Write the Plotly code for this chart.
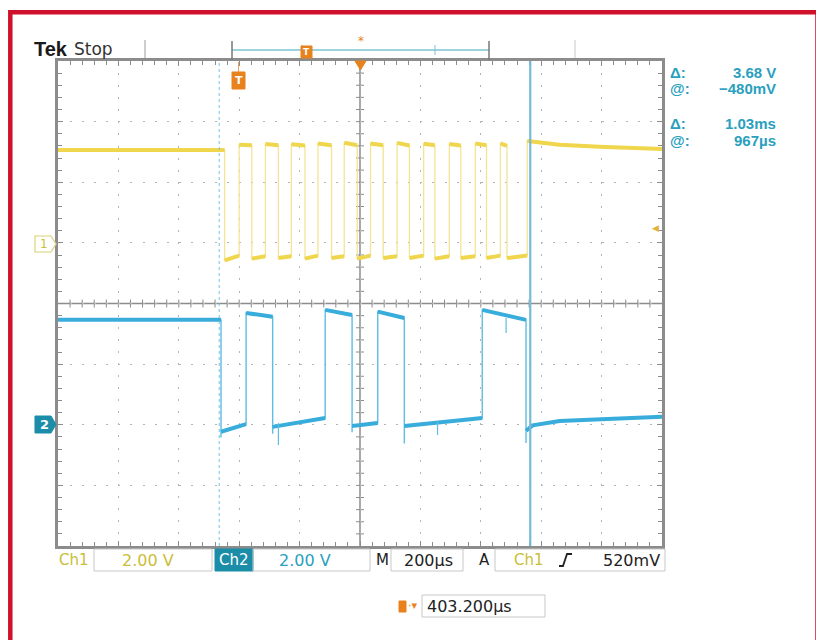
import plotly.graph_objects as go

# ---------------- canvas geometry (page has an 8px body margin) ----------------
OFF = 8
W, H = 816, 632
ML, MT = 50, 53
PW, PH = 604, 485
MR, MB = W - ML - PW, H - MT - PH


def X(p):          # page pixel -> paper x
    return (p - OFF - ML) / PW


def Y(p):          # page pixel -> paper y
    return (OFF + MT + PH - p) / PH


# ---------------- data ----------------
T_START, T_END = -596.8, 1403.2      # µs on screen (200 µs/div, trigger 403.2 µs left of centre)
T_CENTER = 403.2
CURSOR_T1, CURSOR_T2 = -63, 967       # vertical cursors (µs)
TRIG_LEVEL_V = 0.52                   # Ch1 trigger level (V)

# Channel 1 (yellow), volts
CH1_IDLE_V = 3.06
ch1_fall_us = [-45, 45, 133, 221, 309, 394, 480, 567, 651, 737, 822, 890]
ch1_rise_us = [3, 90, 176, 264, 351, 438, 526, 614, 699, 785, 868, 957]
ch1_low_start_v = [-0.58, -0.52, -0.50, -0.52, -0.50, -0.52, -0.50, -0.50, -0.52, -0.50, -0.50, -0.50]
ch1_low_end_v = [-0.42, -0.44, -0.44, -0.42, -0.44, -0.42, -0.44, -0.42, -0.44, -0.44, -0.42, -0.42]
ch1_high_start_v = [3.24, 3.26, 3.25, 3.28, 3.30, 3.28, 3.30, 3.27, 3.26, 3.28, 3.28]
ch1_high_end_v = [3.22, 3.22, 3.21, 3.22, 3.22, 3.22, 3.21, 3.22, 3.21, 3.22, 3.20]
ch1_tail_us = [957, 1064, 1196, 1403.2]
ch1_tail_v = [3.36, 3.24, 3.17, 3.10]

# Channel 2 (blue), volts
CH2_IDLE_V = 3.46
ch2_fall_us = [-57, 114, 377, 550, 953]
ch2_rise_us = [26, 288, 462, 808]
ch2_fall_dip_v = [-0.42, -0.30, -0.25, -0.62, -0.60]
ch2_low_start_v = [-0.23, -0.07, -0.04, -0.04]
ch2_low_end_v = [0.02, 0.22, 0.06, 0.22]
ch2_high_start_v = [3.69, 3.79, 3.73, 3.79]
ch2_high_end_v = [3.56, 3.62, 3.52, 3.46]
ch2_tail_us = [953, 975, 1064, 1250, 1403.2]
ch2_tail_v = [-0.20, -0.02, 0.12, 0.20, 0.26]
ch2_spike_us = [133, 660, 887]
ch2_spike_base_v = [0.06, 0.10, 3.52]
ch2_spike_tip_v = [-0.67, -0.34, 3.03]

# ---------------- colours ----------------
YEL, YEL_EDGE, YEL_TXT = "#F0D64C", "#F3E497", "#C9BE3A"
BLU, BLU_EDGE = "#38ADDC", "#5DBDE3"
TEAL_TXT, TEAL_BOX = "#2A9FBE", "#1B8DA8"
GRAY, ORANGE, RED = "#8C8C8C", "#E8821C", "#D0112B"


def assemble(edges, levels, tail_t, tail_v, dips):
    bounds = [T_START] + edges
    full_t, full_v, flat_t, flat_v = [], [], [], []
    for k, (v0, v1) in enumerate(levels):
        t0, t1 = bounds[k], bounds[k + 1]
        full_t += [t0, t1]
        full_v += [v0, v1]
        flat_t += [t0, t1, None]
        flat_v += [v0, v1, None]
        if t1 in dips:
            full_t.append(t1)
            full_v.append(dips[t1])
    full_t += tail_t
    full_v += tail_v
    flat_t += tail_t
    flat_v += tail_v
    return full_t, full_v, flat_t, flat_v


# Channel 1 series
ch1_edges = sorted(ch1_fall_us + ch1_rise_us)
ch1_levels = [(CH1_IDLE_V, CH1_IDLE_V)]
for i in range(len(ch1_rise_us)):
    ch1_levels.append((ch1_low_start_v[i], ch1_low_end_v[i]))
    if i < len(ch1_high_start_v):
        ch1_levels.append((ch1_high_start_v[i], ch1_high_end_v[i]))
c1t, c1v, c1ft, c1fv = assemble(ch1_edges, ch1_levels, ch1_tail_us, ch1_tail_v, {})

# Channel 2 series
ch2_edges = sorted(ch2_fall_us + ch2_rise_us)
ch2_levels = [(CH2_IDLE_V, CH2_IDLE_V)]
for i in range(len(ch2_rise_us)):
    ch2_levels.append((ch2_low_start_v[i], ch2_low_end_v[i]))
    ch2_levels.append((ch2_high_start_v[i], ch2_high_end_v[i]))
c2t, c2v, c2ft, c2fv = assemble(ch2_edges, ch2_levels, ch2_tail_us, ch2_tail_v,
                                dict(zip(ch2_fall_us, ch2_fall_dip_v)))

spk_t, spk_v = [], []
for t, b, tip in zip(ch2_spike_us, ch2_spike_base_v, ch2_spike_tip_v):
    spk_t += [t, t, None]
    spk_v += [b, tip, None]

fig = go.Figure()
fig.add_trace(go.Scatter(x=c1t, y=c1v, mode="lines", line=dict(color=YEL_EDGE, width=1.3), hoverinfo="skip"))
fig.add_trace(go.Scatter(x=c1ft, y=c1fv, mode="lines", line=dict(color=YEL, width=4), hoverinfo="skip"))
fig.add_trace(go.Scatter(x=c2t, y=c2v, mode="lines", line=dict(color=BLU_EDGE, width=1.4), yaxis="y2", hoverinfo="skip"))
fig.add_trace(go.Scatter(x=c2ft, y=c2fv, mode="lines", line=dict(color=BLU, width=4), yaxis="y2", hoverinfo="skip"))
fig.add_trace(go.Scatter(x=spk_t, y=spk_v, mode="lines", line=dict(color=BLU_EDGE, width=1.2), yaxis="y2", hoverinfo="skip"))

shapes = []
annotations = []

# centre graticule lines with minor ticks
shapes.append(dict(type="line", xref="x", yref="paper", x0=T_CENTER, x1=T_CENTER, y0=0, y1=1,
                   line=dict(color=GRAY, width=1.5), layer="below"))
shapes.append(dict(type="line", xref="paper", yref="y", x0=0, x1=1, y0=-2, y1=-2,
                   line=dict(color=GRAY, width=1.5), layer="below"))
tx = 4.0 / PH
for k in range(1, 50):
    t = T_START + k * 40
    shapes.append(dict(type="line", xref="x", yref="paper", x0=t, x1=t, y0=0.5 - tx, y1=0.5 + tx,
                       line=dict(color=GRAY, width=1), layer="below"))
ty = 4.0 / PW
for k in range(1, 40):
    v = -10 + k * 0.4
    shapes.append(dict(type="line", xref="paper", yref="y", x0=0.5 - ty, x1=0.5 + ty, y0=v, y1=v,
                       line=dict(color=GRAY, width=1), layer="below"))

# cursors
shapes.append(dict(type="line", xref="x", yref="paper", x0=CURSOR_T1, x1=CURSOR_T1, y0=0, y1=1,
                   line=dict(color="#6EC4DE", width=1, dash="3px,3px")))
shapes.append(dict(type="line", xref="x", yref="paper", x0=CURSOR_T2, x1=CURSOR_T2, y0=0, y1=1,
                   line=dict(color="#78B9D8", width=2.2)))


def path(pts, close=True):
    s = "M " + " L ".join(f"{X(a):.5f},{Y(b):.5f}" for a, b in pts)
    return s + (" Z" if close else "")


def rect(x0, y0, x1, y1, line="#C8C8C8", fill="rgba(0,0,0,0)", w=1):
    shapes.append(dict(type="rect", xref="paper", yref="paper", x0=X(x0), x1=X(x1), y0=Y(y1), y1=Y(y0),
                       line=dict(color=line, width=w), fillcolor=fill, layer="above"))


def line(x0, y0, x1, y1, color, w=1, dash=None):
    d = dict(color=color, width=w)
    if dash:
        d["dash"] = dash
    shapes.append(dict(type="line", xref="paper", yref="paper", x0=X(x0), x1=X(x1), y0=Y(y0), y1=Y(y1),
                       line=d, layer="above"))


def txt(x, y, s, size=14, color="#222222", xanchor="left", family="DejaVu Sans"):
    annotations.append(dict(xref="paper", yref="paper", x=X(x), y=Y(y), text=s, showarrow=False,
                            xanchor=xanchor, yanchor="middle",
                            font=dict(size=size, color=color, family=family)))


# red frame
line(10.3, 12.3, 817.5, 12.3, RED, 4.5)
line(10.3, 10, 10.3, 650, RED, 4.5)
line(817.5, 10, 817.5, 650, RED, 4.5)

# top status bar
txt(32, 49, "<b>Tek</b>", 20, "#1a1a1a", family="Liberation Sans")
txt(72, 49, "Stop", 17, "#333333")
line(145, 40, 145, 58, "#9a9a9a", 1)
line(575, 40, 575, 58, "#c8c8c8", 1)
line(232, 50, 489, 50, "#7CC3D6", 1.5)
line(232, 41, 232, 60, "#777777", 1.5)
line(489, 41, 489, 60, "#777777", 1.5)
line(302, 45, 302, 55, "#7CC3D6", 1)
line(435, 45, 435, 55, "#7CC3D6", 1)
rect(301, 46, 312, 58, line=ORANGE, fill=ORANGE)
txt(306.5, 52, "<b>T</b>", 9, "white", "center")
txt(361, 41, "*", 12, ORANGE, "center")
shapes.append(dict(type="path", xref="paper", yref="paper",
                   path=path([(355, 61), (366, 61), (360.5, 70)]),
                   fillcolor=ORANGE, line=dict(color=ORANGE, width=1), layer="above"))
# trigger position marker
line(238.5, 62, 238.5, 72, "#E8A060", 1)
rect(232, 72, 245, 89, line=ORANGE, fill=ORANGE)
txt(238.5, 80.5, "<b>T</b>", 11, "white", "center")

# channel ground markers
shapes.append(dict(type="path", xref="paper", yref="paper",
                   path=path([(35, 236), (51, 236), (56, 244), (51, 252), (35, 252)]),
                   fillcolor="white", line=dict(color="#DCD27A", width=1.2), layer="above"))
txt(44, 244, "1", 12, YEL_TXT, "center")
shapes.append(dict(type="path", xref="paper", yref="paper",
                   path=path([(35, 416), (51, 416), (56, 424.5), (51, 433), (35, 433)]),
                   fillcolor=TEAL_BOX, line=dict(color=TEAL_BOX, width=1), layer="above"))
txt(44, 424.5, "<b>2</b>", 13, "white", "center")

# trigger level marker (right edge)
annotations.append(dict(xref="paper", yref="y", x=X(655), y=TRIG_LEVEL_V, text="◀", showarrow=False,
                        xanchor="center", yanchor="middle", font=dict(size=9, color="#E3B23C")))

# cursor readouts
RF = "Liberation Sans"
for yy, lab, val in [(72, "Δ:", "3.68 V"), (88, "@:", "−480mV"), (123, "Δ:", "1.03ms"), (140, "@:", "967µs")]:
    txt(668, yy, f"<b>{lab}</b>", 15, TEAL_TXT, family=RF)
    txt(778, yy, f"<b>{val}</b>", 15, TEAL_TXT, "right", family=RF)

# bottom settings row
RY = 560
txt(57, RY, "Ch1", 15, YEL_TXT)
rect(94, 549, 212, 571)
txt(148, RY, "2.00 V", 16, YEL_TXT, "center")
rect(215, 549, 253, 571, line=TEAL_BOX, fill=TEAL_BOX)
txt(234, RY, "Ch2", 15, "white", "center")
rect(253, 549, 370, 571)
txt(305, RY, "2.00 V", 16, TEAL_TXT, "center")
txt(374, RY, "M", 15, "#222222")
rect(391, 549, 463, 571)
txt(428, RY, "200µs", 16, "#222222", "center")
txt(477, RY, "A", 15, "#222222")
rect(495, 549, 665, 571)
txt(512, RY, "Ch1", 15, YEL_TXT)
shapes.append(dict(type="path", xref="paper", yref="paper",
                   path=path([(559, 566), (563, 566), (567, 554), (572, 554)], close=False),
                   fillcolor="rgba(0,0,0,0)", line=dict(color="#222222", width=1.8), layer="above"))
txt(662, RY, "520mV", 16, "#222222", "right")

# horizontal position readout
rect(399, 601, 406, 612, line=ORANGE, fill=ORANGE)
txt(412, 605, "·▾", 11, ORANGE, "center")
rect(422, 595, 545, 617)
txt(425, 606, "403.200µs", 16, "#222222")

axis_common = dict(showgrid=True, gridcolor="#B4B4B4", gridwidth=1, zeroline=False,
                   showline=True, linecolor=GRAY, linewidth=3, mirror="ticks",
                   ticks="inside", ticklen=5, tickcolor=GRAY, tickwidth=1,
                   showticklabels=False, fixedrange=True)

fig.update_layout(
    width=W, height=H,
    margin=dict(l=ML, r=MR, t=MT, b=MB),
    paper_bgcolor="white", plot_bgcolor="white",
    showlegend=False,
    xaxis=dict(range=[T_START, T_END], tick0=T_START, dtick=200, griddash="2px,10.08px",
               minor=dict(tick0=T_START, dtick=40, ticks="inside", ticklen=4, tickcolor=GRAY, showgrid=False),
               **axis_common),
    yaxis=dict(range=[-10, 6], tick0=-10, dtick=2, griddash="2px,10.08px",
               minor=dict(tick0=-10, dtick=0.4, ticks="inside", ticklen=4, tickcolor=GRAY, showgrid=False),
               **axis_common),
    yaxis2=dict(range=[-4, 12], overlaying="y", visible=False, fixedrange=True),
    shapes=shapes,
    annotations=annotations,
)

fig.write_html("out.html")
